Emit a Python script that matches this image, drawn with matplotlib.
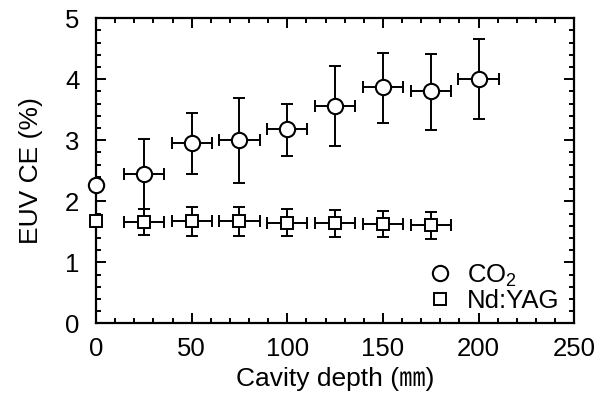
import matplotlib.pyplot as plt
from matplotlib.ticker import MultipleLocator

plt.rcParams['font.family'] = ['Liberation Sans', 'Noto Sans CJK JP', 'DejaVu Sans']
plt.rcParams['mathtext.fontset'] = 'custom'
plt.rcParams['mathtext.rm'] = 'Liberation Sans'

# CO2 laser data
co2_x = [0, 25, 50, 75, 100, 125, 150, 175, 200]
co2_y = [2.26, 2.44, 2.95, 3.01, 3.18, 3.56, 3.87, 3.80, 4.00]
co2_hi = [2.26, 3.02, 3.45, 3.70, 3.60, 4.22, 4.43, 4.42, 4.65]
co2_lo = [2.26, 1.88, 2.44, 2.30, 2.74, 2.90, 3.28, 3.17, 3.35]
co2_xerr = [0, 10.5, 10.5, 10.5, 10.5, 10.5, 10.5, 10.5, 10.5]

# Nd:YAG laser data
yag_x = [0, 25, 50, 75, 100, 125, 150, 175]
yag_y = [1.67, 1.66, 1.67, 1.67, 1.65, 1.64, 1.63, 1.61]
yag_hi = [1.67, 1.88, 1.90, 1.90, 1.87, 1.85, 1.84, 1.82]
yag_lo = [1.67, 1.45, 1.43, 1.44, 1.44, 1.42, 1.41, 1.38]
yag_xerr = [0, 10.5, 10.5, 10.5, 10.5, 10.5, 10.5, 10.5]

fig = plt.figure(figsize=(6, 3.94), dpi=100)
ax = fig.add_axes([0.16, 0.179, 0.797, 0.775])

co2_yerr = [[y - l for y, l in zip(co2_y, co2_lo)], [h - y for y, h in zip(co2_y, co2_hi)]]
yag_yerr = [[y - l for y, l in zip(yag_y, yag_lo)], [h - y for y, h in zip(yag_y, yag_hi)]]

# draw error bars only where they exist (points at 0 have none)
ax.errorbar(co2_x[1:], co2_y[1:], xerr=co2_xerr[1:],
            yerr=[co2_yerr[0][1:], co2_yerr[1][1:]],
            fmt='none', ecolor='black', elinewidth=1.4, capsize=4, capthick=1.4)
ax.errorbar(yag_x[1:], yag_y[1:], xerr=yag_xerr[1:],
            yerr=[yag_yerr[0][1:], yag_yerr[1][1:]],
            fmt='none', ecolor='black', elinewidth=1.4, capsize=4, capthick=1.4)

ax.plot(co2_x, co2_y, 'o', ms=11, mfc='white', mec='black', mew=1.5,
        linestyle='none', label='CO$_2$', clip_on=False, zorder=5)
ax.plot(yag_x, yag_y, 's', ms=9, mfc='white', mec='black', mew=1.4,
        linestyle='none', label='Nd:YAG', clip_on=False, zorder=5)

ax.set_xlim(0, 250)
ax.set_ylim(0, 5)
ax.xaxis.set_major_locator(MultipleLocator(50))
ax.xaxis.set_minor_locator(MultipleLocator(10))
ax.yaxis.set_major_locator(MultipleLocator(1))
ax.yaxis.set_minor_locator(MultipleLocator(0.2))
ax.tick_params(which='both', direction='in', top=True, right=True,
               width=1.4, labelsize=18.5)
ax.tick_params(axis='y', pad=12)
ax.tick_params(axis='x', pad=10)
ax.tick_params(which='major', length=7)
ax.tick_params(which='minor', length=3.5)
for s in ax.spines.values():
    s.set_linewidth(1.6)

ax.set_xlabel('Cavity depth (㎜)', fontsize=19, labelpad=4)
ax.set_ylabel('EUV CE (%)', fontsize=19, labelpad=16)

ax.legend(loc='lower right', frameon=False, fontsize=18.5, handletextpad=0.55,
          borderaxespad=0, borderpad=0, labelspacing=0.0, handlelength=1.0,
          bbox_to_anchor=(0.97, 0.035))

fig.savefig('out.png', dpi=100)
